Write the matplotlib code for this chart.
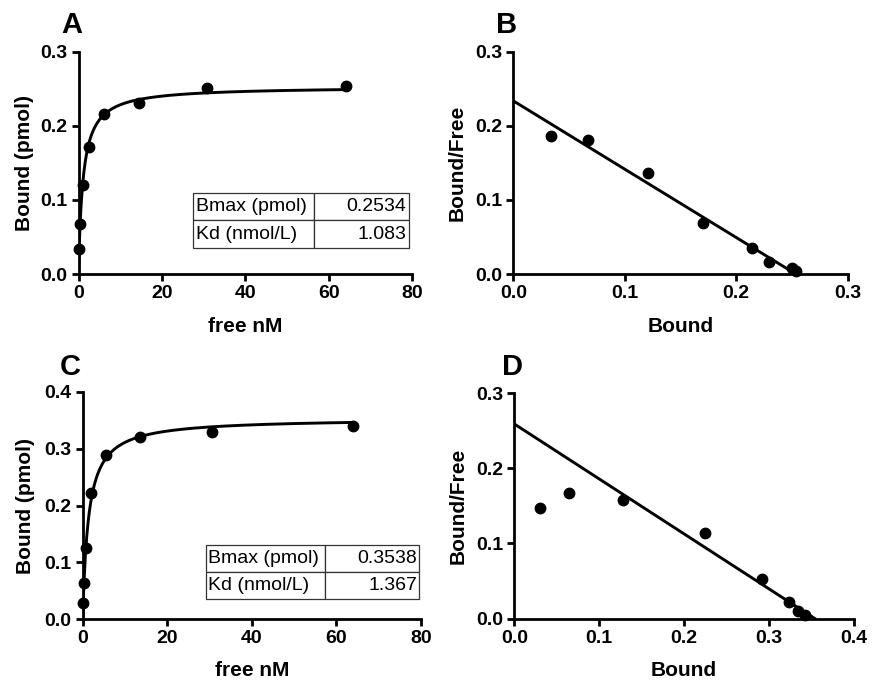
import numpy as np
import matplotlib
matplotlib.use("Agg")
import matplotlib.pyplot as plt

plt.rcParams['font.family'] = ['Liberation Sans', 'DejaVu Sans']

# ---------------- data ----------------
# Panel A: saturation binding (set 1)
free_A = [0.2, 0.4, 1.1, 2.6, 6.2, 14.5, 30.9, 64.2]
bound_A = [0.034, 0.067, 0.120, 0.171, 0.216, 0.231, 0.252, 0.254]
bmax_A = 0.2534
kd_A = 1.083

# Panel B: Scatchard (set 1)
scat_bound_B = [0.034, 0.067, 0.1205, 0.170, 0.214, 0.2296, 0.250, 0.2536]
scat_ratio_B = [0.186, 0.181, 0.137, 0.069, 0.0347, 0.0158, 0.0086, 0.0045]

# Panel C: saturation binding (set 2)
free_C = [0.1, 0.2, 0.8, 1.9, 5.4, 13.5, 30.5, 64.0]
bound_C = [0.0288, 0.063, 0.1246, 0.2215, 0.2885, 0.320, 0.330, 0.340]
bmax_C = 0.3538
kd_C = 1.367

# Panel D: Scatchard (set 2)
scat_bound_D = [0.0302, 0.0644, 0.128, 0.2244, 0.2922, 0.3235, 0.3346, 0.342]
scat_ratio_D = [0.147, 0.1665, 0.157, 0.1137, 0.0524, 0.022, 0.0097, 0.004]

table_labels = ['Bmax (pmol)', 'Kd (nmol/L)']
table_vals_A = ['0.2534', '1.083']
table_vals_C = ['0.3538', '1.367']

xticks_sat = [0, 20, 40, 60, 80]
yticks_A = [0.0, 0.1, 0.2, 0.3]
yticks_C = [0.0, 0.1, 0.2, 0.3, 0.4]
xticks_B = [0.0, 0.1, 0.2, 0.3]
xticks_D = [0.0, 0.1, 0.2, 0.3, 0.4]
yticks_BD = [0.0, 0.1, 0.2, 0.3]

# ---------------- figure ----------------
W, H = 873, 684
fig = plt.figure(figsize=(W / 100, H / 100), dpi=100)


def px_axes(left, right, top, bottom):
    return fig.add_axes([left / W, 1 - bottom / H, (right - left) / W, (bottom - top) / H])


axA = px_axes(78.5, 412, 52, 274)
axB = px_axes(513.3, 847.7, 52, 274)
axC = px_axes(82.7, 421, 392, 619)
axD = px_axes(514.3, 854, 393, 618.5)

LW = 2.0
TICKFS = 14
LABFS = 15


def style(ax, xt, yt, xlim, ylim, xfmt, yfmt):
    for s in ['top', 'right']:
        ax.spines[s].set_visible(False)
    for s in ['left', 'bottom']:
        ax.spines[s].set_linewidth(LW)
        ax.spines[s].set_color('black')
    ax.set_xlim(*xlim)
    ax.set_ylim(*ylim)
    ax.set_xticks(xt)
    ax.set_yticks(yt)
    ax.set_xticklabels([xfmt.format(v) for v in xt])
    ax.set_yticklabels([yfmt.format(v) for v in yt])
    ax.tick_params(direction='out', length=5, width=LW, labelsize=TICKFS)
    ax.tick_params(axis='x', pad=3)
    ax.tick_params(axis='y', pad=3)
    for lab in ax.get_xticklabels() + ax.get_yticklabels():
        lab.set_fontweight('bold')
    ax.patch.set_alpha(0)


def labels(ax, xlabel, ylabel, xl_px_below, yl_px_left):
    bb = ax.get_position()
    w_px = bb.width * W
    h_px = bb.height * H
    ax.set_xlabel(xlabel, fontsize=LABFS, fontweight='bold')
    ax.set_ylabel(ylabel, fontsize=LABFS, fontweight='bold')
    ax.xaxis.label.set_va('center')
    ax.yaxis.label.set_va('center')
    ax.xaxis.set_label_coords(0.5, -xl_px_below / h_px)
    ax.yaxis.set_label_coords(-yl_px_left / w_px, 0.5)


def add_table(ax, labels_, vals, bbox):
    tb = ax.table(cellText=[[l, v] for l, v in zip(labels_, vals)],
                  colWidths=[0.56, 0.44], bbox=bbox, cellLoc='left')
    tb.auto_set_font_size(False)
    for (r, c), cell in tb.get_celld().items():
        cell.set_linewidth(0.9)
        cell.set_edgecolor('#333333')
        cell.get_text().set_fontsize(14)
        if c == 1:
            cell._loc = 'right'
            cell.get_text().set_ha('right')
        cell.PAD = 0.025
    return tb


# Panel A
xs = np.linspace(0, max(free_A), 400)
axA.plot(xs, bmax_A * xs / (kd_A + xs), color='black', lw=2.1)
axA.plot(free_A, bound_A, 'o', color='black', ms=7.5, clip_on=False)
style(axA, xticks_sat, yticks_A, (0, 80), (0, 0.3), '{:g}', '{:.1f}')
labels(axA, 'free nM', 'Bound (pmol)', 52, 53.5)
add_table(axA, table_labels, table_vals_A, [0.343, 0.117, 0.648, 0.248])

# Panel B
xl = np.linspace(0, bmax_A, 50)
axB.plot(xl, (bmax_A - xl) / kd_A, color='black', lw=2.1)
axB.plot(scat_bound_B, scat_ratio_B, 'o', color='black', ms=7.5, clip_on=False)
style(axB, xticks_B, yticks_BD, (0, 0.3), (0, 0.3), '{:.1f}', '{:.1f}')
labels(axB, 'Bound', 'Bound/Free', 52, 56)

# Panel C
xs = np.linspace(0, max(free_C), 400)
axC.plot(xs, bmax_C * xs / (kd_C + xs), color='black', lw=2.1)
axC.plot(free_C, bound_C, 'o', color='black', ms=7.5, clip_on=False)
style(axC, xticks_sat, yticks_C, (0, 80), (0, 0.4), '{:g}', '{:.1f}')
labels(axC, 'free nM', 'Bound (pmol)', 52, 57.5)
add_table(axC, table_labels, table_vals_C, [0.363, 0.087, 0.632, 0.239])

# Panel D
xl = np.linspace(0, bmax_C, 50)
axD.plot(xl, (bmax_C - xl) / kd_C, color='black', lw=2.1)
axD.plot(scat_bound_D, scat_ratio_D, 'o', color='black', ms=7.5, clip_on=False)
style(axD, xticks_D, yticks_BD, (0, 0.4), (0, 0.3), '{:.1f}', '{:.1f}')
labels(axD, 'Bound', 'Bound/Free', 52.5, 56)

# Panel letters
for letter, (px, py) in zip(['A', 'B', 'C', 'D'], [(72, 25), (507, 25), (70, 367), (512, 367)]):
    fig.text(px / W, 1 - py / H, letter, fontsize=21, fontweight='bold',
             ha='center', va='center')

fig.savefig('out.png', dpi=100)
